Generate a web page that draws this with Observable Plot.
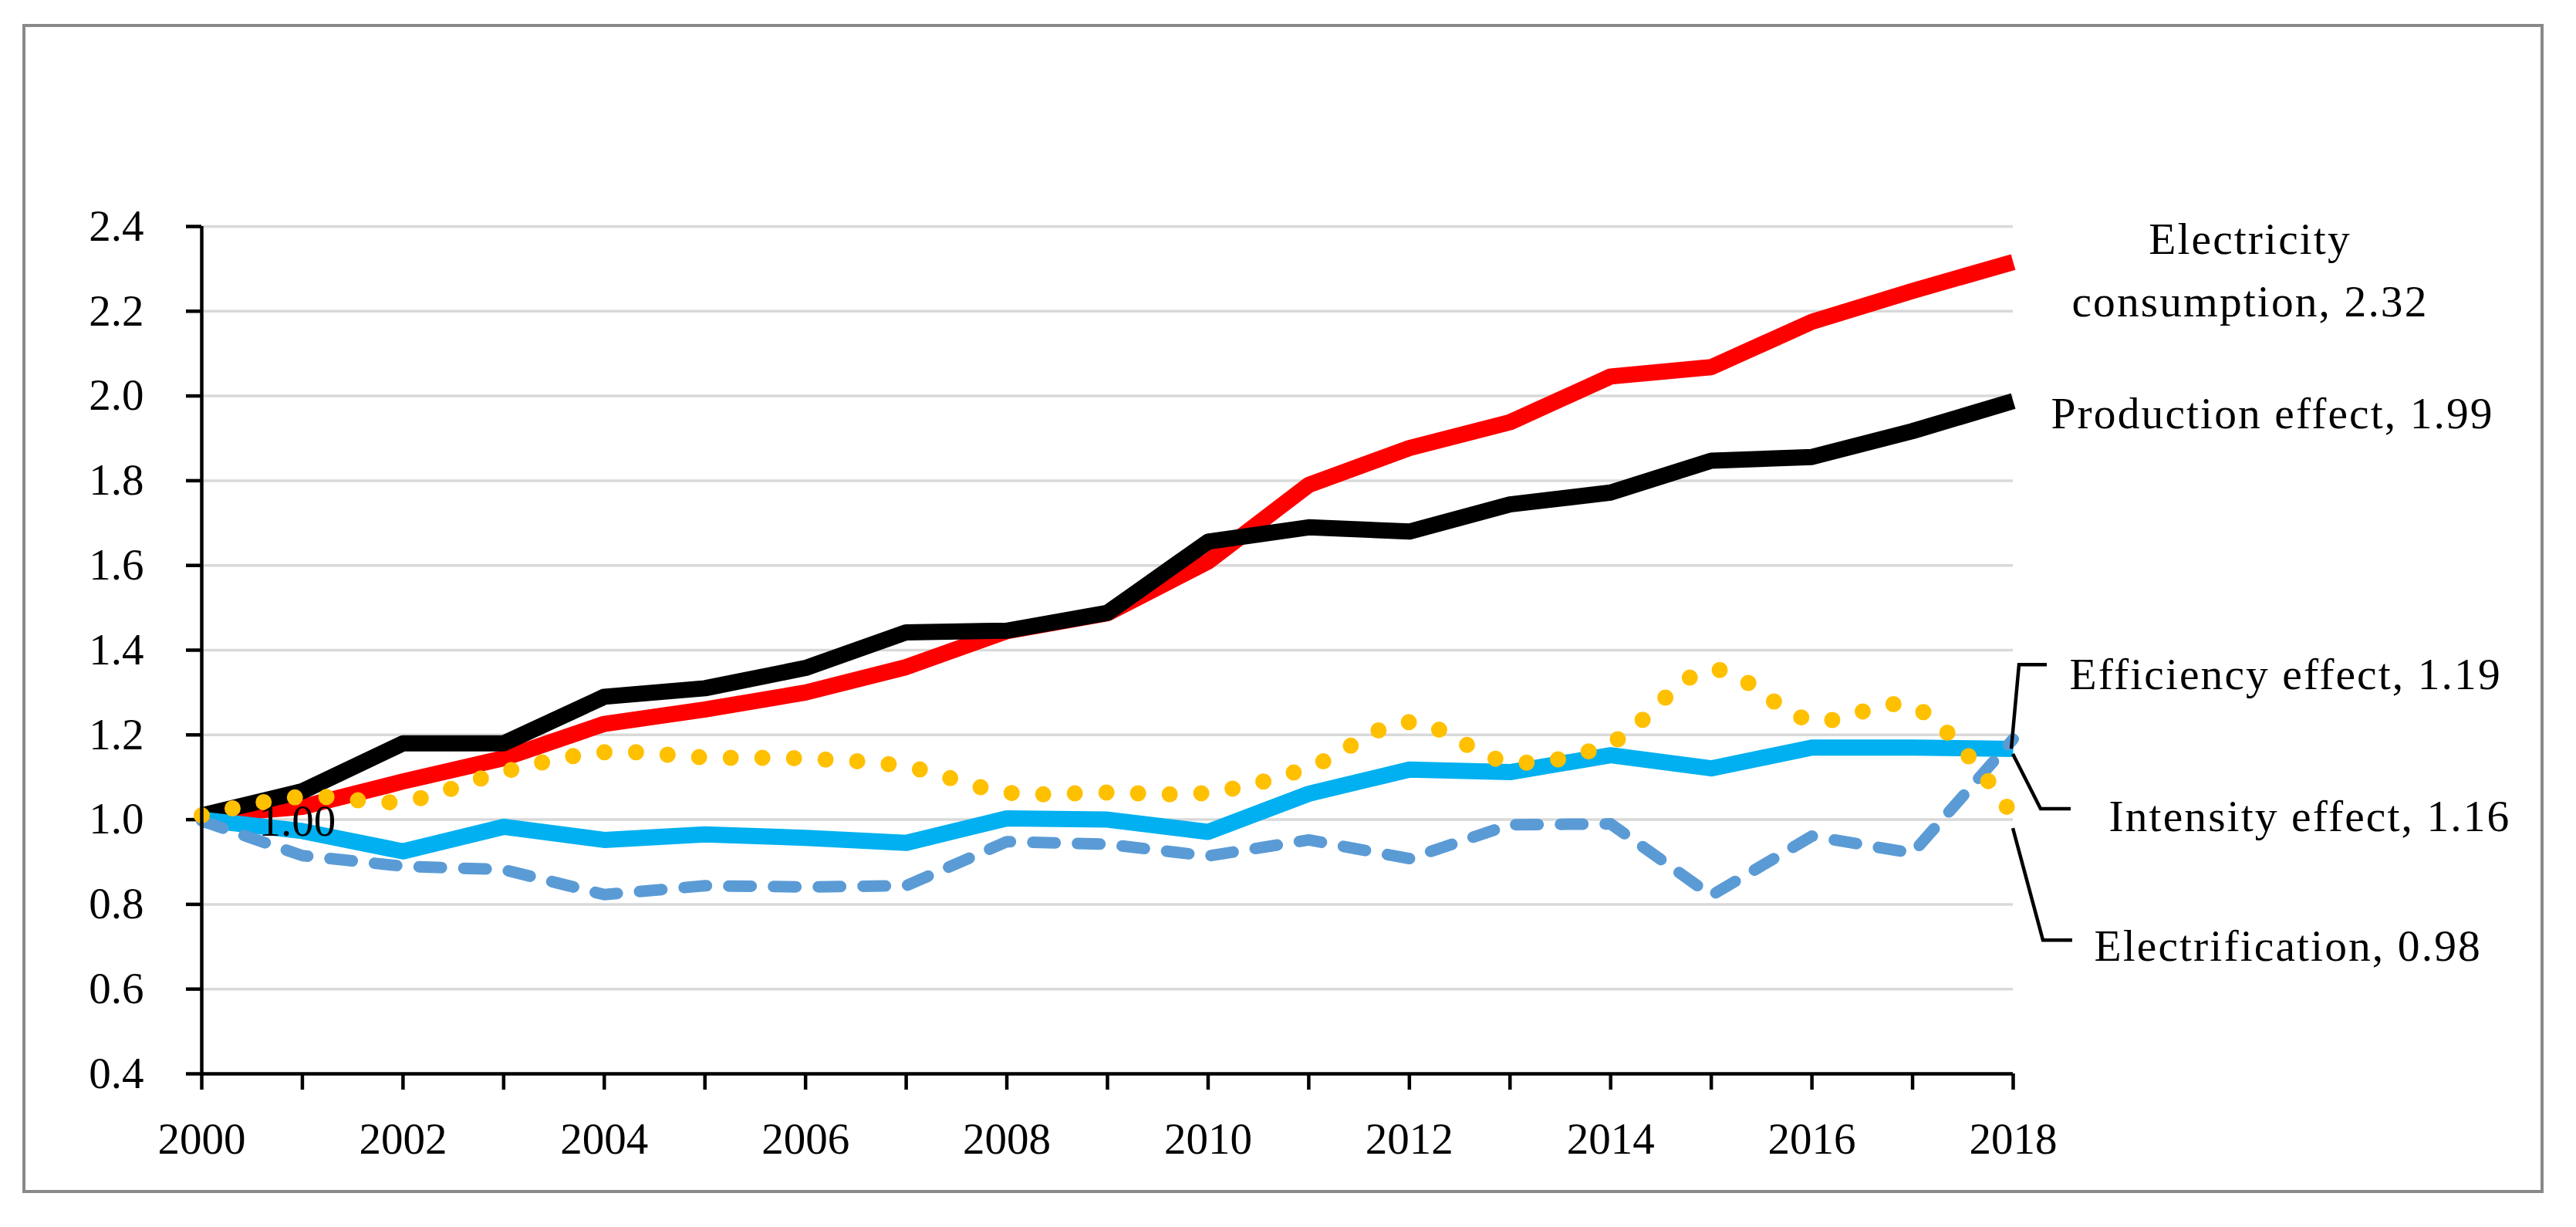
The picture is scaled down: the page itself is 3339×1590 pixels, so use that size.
<!DOCTYPE html>
<html>
<head>
<meta charset="utf-8">
<script src="https://cdn.jsdelivr.net/npm/d3@7"></script>
<script src="https://cdn.jsdelivr.net/npm/@observablehq/plot@0.6"></script>
<style>
  html, body { margin: 0; padding: 0; background: #ffffff; }
  #fig {
    position: absolute; left: 29px; top: 31px;
    width: 3260px; height: 1507px;
    border: 4px solid #898989; background: #ffffff;
  }
  #fig svg { display: block; overflow: visible; }
  g[font-size="57.5"] text { letter-spacing: 2.1px; }
</style>
</head>
<body>
<div id="fig"></div>
<script>
// ---------- data ----------
const years = [2000,2001,2002,2003,2004,2005,2006,2007,2008,2009,2010,2011,2012,2013,2014,2015,2016,2017,2018];
const electricityConsumption = [1.01,1.03,1.09,1.145,1.226,1.26,1.30,1.36,1.445,1.487,1.609,1.79,1.877,1.938,2.046,2.068,2.175,2.248,2.316];
const productionEffect       = [1.01,1.067,1.18,1.18,1.29,1.31,1.358,1.442,1.446,1.488,1.656,1.69,1.68,1.744,1.772,1.847,1.856,1.917,1.988];
const intensityEffect        = [1.00,0.973,0.925,0.983,0.952,0.965,0.957,0.945,1.003,1.00,0.971,1.061,1.118,1.112,1.152,1.121,1.17,1.17,1.167];
const efficiencyEffect       = [0.997,0.915,0.89,0.882,0.823,0.844,0.841,0.844,0.948,0.942,0.914,0.952,0.908,0.988,0.99,0.821,0.961,0.921,1.19];
const electrification        = [1.01,1.054,1.043,1.113,1.159,1.147,1.144,1.125,1.064,1.064,1.064,1.123,1.23,1.136,1.181,1.354,1.234,1.267,1.008];
const yTicks = [0.4,0.6,0.8,1.0,1.2,1.4,1.6,1.8,2.0,2.2,2.4];
const seriesLabels = {
  electricity: "Electricity\nconsumption, 2.32",
  production: "Production effect, 1.99",
  efficiency: "Efficiency effect, 1.19",
  intensity: "Intensity effect, 1.16",
  electrification: "Electrification, 0.98",
  start: "1.00"
};

// ---------- helpers ----------
const toRows = arr => years.map((yr, i) => ({year: yr, value: arr[i]}));
const last = arr => arr[arr.length - 1];
const font = "'Liberation Serif', 'Times New Roman', serif";
const lblSize = 57.5;

// leader elbows (pixel offsets from each series' last point)
const leaders = [
  {value: last(efficiencyEffect), pts: [[-2, 13], [8, -96], [44, -96]]},
  {value: last(intensityEffect), pts: [[0, 7], [36, 78], [75, 78]]},
  {value: last(electrification), pts: [[0, 16], [39, 161], [77, 161]]}
];
const leaderMark = (index, scales) => {
  const g = d3.create("svg:g");
  for (const l of leaders) {
    const x0 = scales.x(2018), y0 = scales.y(l.value);
    g.append("path")
      .attr("d", "M" + l.pts.map(([dx, dy]) => `${x0 + dx},${y0 + dy}`).join("L"))
      .attr("fill", "none").attr("stroke", "#000").attr("stroke-width", 4.5)
      .attr("stroke-linejoin", "miter");
  }
  return g.node();
};

const endLabel = (arr, text, dx, dy, anchor) =>
  Plot.text([{year: 2018, value: last(arr), text}], {
    x: "year", y: "value", text: "text", dx, dy, textAnchor: anchor,
    fontSize: lblSize, fill: "#000", lineHeight: 1.4
  });

const chart = Plot.plot({
  width: 3260,
  height: 1507,
  marginLeft: 228,
  marginRight: 684,
  marginTop: 258,
  marginBottom: 151,
  x: {domain: [2000, 2018]},
  y: {domain: [0.4, 2.4]},
  style: {fontFamily: font, fontSize: "57px", color: "#000", background: "#fff", overflow: "visible"},
  marks: [
    Plot.ruleY(yTicks.slice(1), {stroke: "#D9D9D9", strokeWidth: 3.5}),
    Plot.axisY({ticks: yTicks, tickSize: 20, tickPadding: 55, tickFormat: d3.format(".1f"),
                strokeWidth: 4.5, fontSize: 57, label: null}),
    Plot.axisX({ticks: years, tickSize: 21, tickPadding: 42,
                tickFormat: d => d % 2 === 0 ? String(d) : "",
                strokeWidth: 4.5, fontSize: 57, label: null}),
    Plot.line(toRows(electricityConsumption), {x: "year", y: "value", stroke: "#FF0000",
              strokeWidth: 21, strokeLinejoin: "round", strokeLinecap: "butt"}),
    Plot.line(toRows(productionEffect), {x: "year", y: "value", stroke: "#000000",
              strokeWidth: 21, strokeLinejoin: "round", strokeLinecap: "butt"}),
    Plot.line(toRows(intensityEffect), {x: "year", y: "value", stroke: "#00B0F0",
              strokeWidth: 21, strokeLinejoin: "round", strokeLinecap: "butt"}),
    Plot.line(toRows(efficiencyEffect), {x: "year", y: "value", stroke: "#5B9BD5",
              strokeWidth: 15, strokeDasharray: "29 29", strokeLinecap: "round", strokeLinejoin: "round"}),
    Plot.line(toRows(electrification), {x: "year", y: "value", stroke: "#FFC000", curve: "catmull-rom",
              strokeWidth: 21, strokeDasharray: "0 41", strokeLinecap: "round"}),
    Plot.ruleX([2000], {stroke: "#000", strokeWidth: 4.5}),
    Plot.ruleY([0.4], {stroke: "#000", strokeWidth: 4.5}),
    Plot.text([{year: 2000, value: intensityEffect[0], text: seriesLabels.start}], {
      x: "year", y: "value", text: "text", dx: 74, dy: 3, textAnchor: "start", fontSize: 57, fill: "#000"}),
    leaderMark,
    endLabel(electricityConsumption, seriesLabels.electricity, 307, 4, "middle"),
    endLabel(productionEffect, seriesLabels.production, 49, 10, "start"),
    endLabel(efficiencyEffect, seriesLabels.efficiency, 73, -91, "start"),
    endLabel(intensityEffect, seriesLabels.intensity, 124, 81, "start"),
    endLabel(electrification, seriesLabels.electrification, 105, 162, "start")
  ]
});
document.getElementById("fig").appendChild(chart);
</script>
</body>
</html>
